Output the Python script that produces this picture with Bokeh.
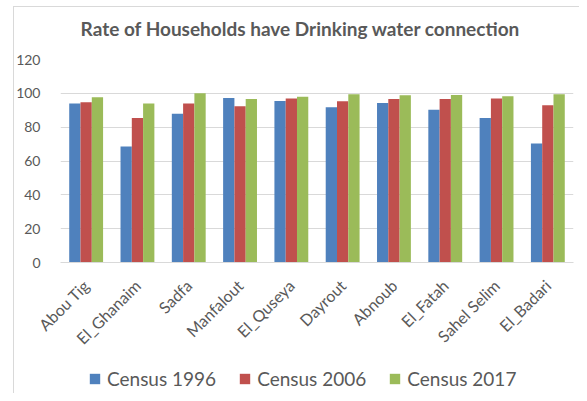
import math
from bokeh.plotting import figure
from bokeh.layouts import column
from bokeh.models import (ColumnDataSource, FactorRange, Legend, LegendItem, Range1d,
                          FixedTicker, Label)
from bokeh.transform import dodge
from bokeh.embed import file_html
from bokeh.resources import INLINE

title_text = "Rate of Households have Drinking water connection"
categories = ["Abou Tig", "El_Ghanaim", "Sadfa", "Manfalout", "El_Quseya",
              "Dayrout", "Abnoub", "El_Fatah", "Sahel Selim", "El_Badari"]
census_1996 = [94, 68.5, 88, 97.3, 95.4, 91.8, 94.3, 90.3, 85.4, 70.3]
census_2006 = [94.8, 85.4, 94, 92.4, 97, 95.3, 96.6, 96.7, 97, 93]
census_2017 = [97.7, 94, 100, 96.7, 98, 99.4, 98.8, 99, 98.3, 99.4]
series_names = ["Census 1996", "Census 2006", "Census 2017"]
colors = ["#4F81BD", "#C0504D", "#9BBB59"]
y_ticks = [0, 20, 40, 60, 80, 100, 120]

src = ColumnDataSource(dict(cat=categories, a=census_1996, b=census_2006, c=census_2017))

FONT = "Lato"
TXT = "#595959"
W = 579
FL, FR = 60, 573  # frame left / right in page pixels

# ---- title strip ----
pt = figure(width=W, height=50, x_range=Range1d(FL, FR), y_range=Range1d(0, 50),
            output_backend="svg", toolbar_location=None, min_border=0,
            min_border_left=FL, min_border_right=W - FR,
            x_axis_type=None, y_axis_type=None)
pt.outline_line_color = None
pt.border_fill_alpha = 0
pt.background_fill_alpha = 0
pt.grid.visible = False
pt.add_layout(Label(x=300, y=22, text=title_text, text_align="center", text_baseline="middle",
                    text_font=FONT, text_font_size="19px", text_font_style="bold", text_color=TXT))

# ---- main chart ----
p = figure(x_range=FactorRange(*categories), y_range=Range1d(0, 120),
           width=W, height=307, output_backend="svg", toolbar_location=None,
           min_border_left=FL, min_border_right=W - FR, min_border_top=9, min_border_bottom=95)
p.outline_line_color = None
p.border_fill_alpha = 0
p.x_range.range_padding = 0.0

w = 0.22
offs = [-0.22, 0.0, 0.22]
cols = ["a", "b", "c"]
renderers = []
for o, c, col in zip(offs, cols, colors):
    renderers.append(p.vbar(x=dodge("cat", o, range=p.x_range), top=c, width=w, source=src,
                            color=col, line_color=None))

p.xgrid.grid_line_color = None
p.ygrid.grid_line_color = "#d9d9d9"
p.yaxis.ticker = FixedTicker(ticks=y_ticks)
p.yaxis.axis_line_color = None
p.yaxis.major_tick_line_color = None
p.yaxis.minor_tick_line_color = None
p.yaxis.major_label_text_font = FONT
p.yaxis.major_label_text_font_size = "14px"
p.yaxis.major_label_text_color = TXT
p.yaxis.major_label_standoff = 14

p.xaxis.axis_line_color = "#d9d9d9"
p.xaxis.major_tick_line_color = None
p.xaxis.minor_tick_line_color = None
p.xaxis.major_label_orientation = math.pi / 4
p.xaxis.major_label_text_font = FONT
p.xaxis.major_label_text_font_size = "16px"
p.xaxis.major_label_text_color = TXT
p.xaxis.major_label_standoff = 14

# ---- legend strip ----
pl = figure(width=W, height=36, x_range=p.x_range, y_range=Range1d(0, 1),
            output_backend="svg", toolbar_location=None, min_border=0,
            min_border_left=FL, min_border_right=W - FR,
            x_axis_type=None, y_axis_type=None)
pl.outline_line_color = None
pl.border_fill_alpha = 0
pl.background_fill_alpha = 0
pl.grid.visible = False
leg_r = []
for o, c, col in zip(offs, cols, colors):
    r = pl.vbar(x=dodge("cat", o, range=p.x_range), top=c, width=w, source=src,
                color=col, line_color=None)
    r.visible = False
    leg_r.append(r)
legend = Legend(items=[LegendItem(label=n, renderers=[r]) for n, r in zip(series_names, leg_r)],
                orientation="horizontal", location=(28, 3),
                label_text_font=FONT, label_text_font_size="19px", label_text_color=TXT,
                glyph_width=13, glyph_height=13, spacing=22, label_standoff=6,
                border_line_color=None, background_fill_alpha=0, padding=0, margin=0,
                inactive_fill_alpha=0)
pl.add_layout(legend, "center")

frame_css = {
    "background-color": "white",
    "background-image": "linear-gradient(#d9d9d9, #d9d9d9), linear-gradient(#d9d9d9, #d9d9d9)",
    "background-size": "1px 100%, 100% 1px",
    "background-position": "13px 6px, 13px 6px",
    "background-repeat": "no-repeat",
}
layout = column(pt, p, pl, spacing=0, styles=frame_css)
open("out.html", "w").write(file_html(layout, INLINE))
